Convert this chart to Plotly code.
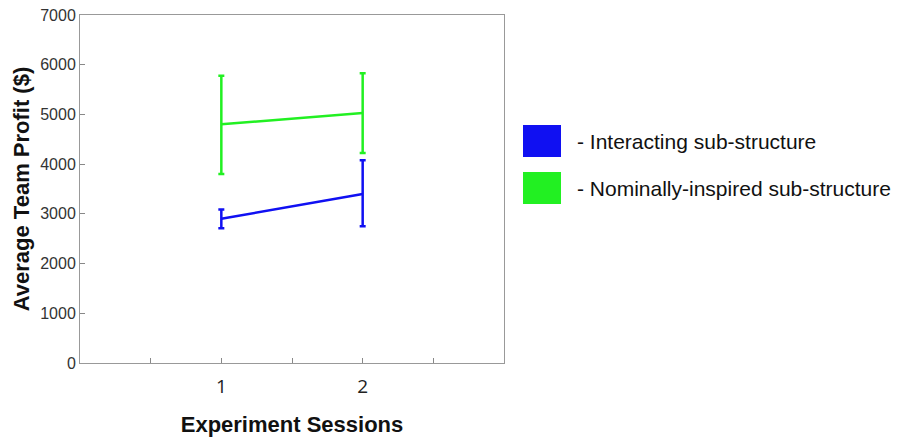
import plotly.graph_objects as go

sessions = [1, 2]
interacting_mean = [2900, 3400]
interacting_err_plus = [190, 680]
interacting_err_minus = [190, 650]
nominal_mean = [4800, 5030]
nominal_err_plus = [980, 800]
nominal_err_minus = [1000, 805]
series_names = ["- Interacting sub-structure", "- Nominally-inspired sub-structure"]
series_colors = ["#1010f2", "#22f022"]
x_tickvals = [0.5, 1, 1.5, 2, 2.5]
x_ticktext = ["", "1", "", "2", ""]
y_tickvals = [0, 1000, 2000, 3000, 4000, 5000, 6000, 7000]

fig = go.Figure()
for mean, ep, em, color, name in [
    (interacting_mean, interacting_err_plus, interacting_err_minus, series_colors[0], series_names[0]),
    (nominal_mean, nominal_err_plus, nominal_err_minus, series_colors[1], series_names[1]),
]:
    fig.add_trace(go.Scatter(
        x=sessions, y=mean, mode="lines", name=name,
        line=dict(color=color, width=2.5),
        error_y=dict(type="data", symmetric=False, array=ep, arrayminus=em,
                     color=color, thickness=2.5, width=3),
        showlegend=False,
    ))

# legend swatches + labels
leg_y = [141, 188]
for i, (name, color) in enumerate(zip(series_names, series_colors)):
    yc = leg_y[i]
    fig.add_shape(type="rect", xref="paper", yref="paper",
                  x0=(523 - 80) / 424, x1=(561 - 80) / 424,
                  y0=(363 - (yc + 16)) / 348, y1=(363 - (yc - 16)) / 348,
                  fillcolor=color, line=dict(color=color, width=0))
    fig.add_annotation(xref="paper", yref="paper", x=(575 - 80) / 424, y=(363 - yc) / 348,
                       text=name, showarrow=False, xanchor="left", yanchor="middle",
                       font=dict(family="Liberation Sans, Arial", size=21, color="#111"))

fig.update_layout(
    width=907, height=443,
    margin=dict(l=80, r=403, t=15, b=80, pad=0),
    paper_bgcolor="white", plot_bgcolor="white",
    xaxis=dict(range=[0, 3], tickvals=x_tickvals, ticktext=x_ticktext,
               ticks="inside", ticklen=5, tickcolor="#888", showgrid=False, zeroline=False,
               showline=True, linecolor="#999", linewidth=1, mirror=True,
               ticklabelstandoff=6, automargin=False,
               tickfont=dict(family="Open Sans", size=19, color="#222"),
               title=dict(text="<b>Experiment Sessions</b>", standoff=18,
                          font=dict(family="Liberation Sans, Arial", size=22, color="#111"))),
    yaxis=dict(range=[0, 7000], tickvals=y_tickvals, automargin=False,
               ticks="inside", ticklen=5, tickcolor="#888", showgrid=False, zeroline=False,
               showline=True, linecolor="#999", linewidth=1, mirror=True,
               tickfont=dict(family="Liberation Sans, Arial", size=16, color="#333"),
               title=dict(text="<b>Average Team Profit ($)</b>", standoff=4,
                          font=dict(family="Liberation Sans, Arial", size=22, color="#111"))),
)

fig.write_html("out.html")
